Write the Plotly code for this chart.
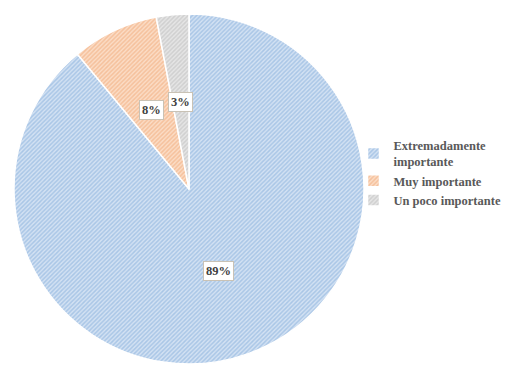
import math
import plotly.graph_objects as go

labels = ["Extremadamente<br>importante", "Muy importante", "Un poco importante"]
values = [89, 8, 3]
colors = ["#7FA9DA", "#F0A46F", "#B8B8B8"]
bg_colors = ["#D3E2F3", "#FBDCC6", "#E6E6E6"]
pct_text = ["89%", "8%", "3%"]

W, H = 505, 365
cx, cy, R = 189, 189, 175
dom_x = [(cx - R) / W, (cx + R) / W]
dom_y = [1 - (cy + R) / H, 1 - (cy - R) / H]

fig = go.Figure(go.Pie(
    labels=labels, values=values, sort=False, direction="clockwise", rotation=0,
    textinfo="none", hoverinfo="label+percent",
    marker=dict(colors=bg_colors,
                line=dict(color="white", width=1.5),
                pattern=dict(shape="/", fgcolor=colors, bgcolor=bg_colors,
                             size=3, solidity=0.5, fillmode="overlay")),
    domain=dict(x=dom_x, y=dom_y),
))

total = sum(values)
acc = 0
for v, t in zip(values, pct_text):
    mid = (acc + v / 2) / total * 2 * math.pi
    acc += v
    px = cx + 0.5 * R * math.sin(mid)
    py = cy - 0.5 * R * math.cos(mid)
    fig.add_annotation(x=px / W, y=1 - py / H, xref="paper", yref="paper",
                       xanchor="center", yanchor="middle",
                       text="<b>%s</b>" % t, showarrow=False,
                       font=dict(family="Liberation Serif", size=12.5, color="#404040"),
                       bgcolor="white", bordercolor="#C9C2B5", borderwidth=1, borderpad=2)

fig.update_layout(
    width=W, height=H, margin=dict(l=0, r=0, t=0, b=0, autoexpand=False),
    paper_bgcolor="white", plot_bgcolor="white",
    legend=dict(x=0.70, y=0.527, xanchor="left", yanchor="middle",
                bgcolor="rgba(0,0,0,0)",
                font=dict(family="Liberation Serif", size=12.5, color="#595959", weight="bold"),
                itemwidth=30, tracegroupgap=0),
)
fig.write_html("out.html")
